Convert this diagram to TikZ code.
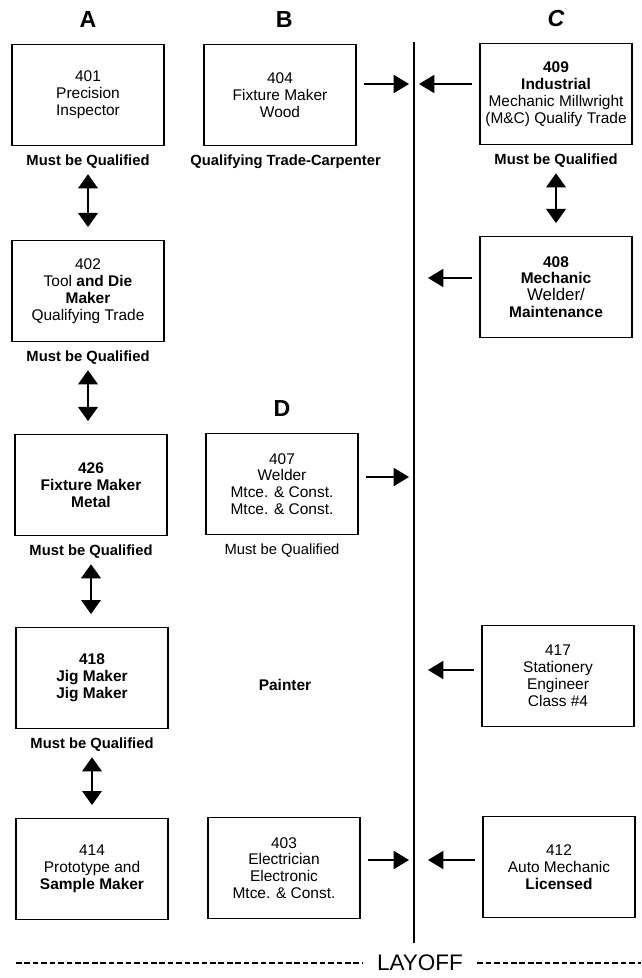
\documentclass[tikz,border=0pt]{standalone}
\usepackage{fontspec}
\setmainfont{Liberation Sans}
\usetikzlibrary{positioning,arrows.meta}

\begin{document}
\begin{tikzpicture}[x=0.025cm,y=-0.025cm,node distance=6pt,
  job/.style={draw,line width=1.1pt,minimum width=3.8cm,minimum height=2.525cm,align=center,inner sep=1pt,font=\fontsize{11}{12}\selectfont},
  qual/.style={font=\fontsize{10.5}{12}\selectfont\bfseries,inner sep=0pt,text height=7.5pt,text depth=2pt},
  col/.style={font=\fontsize{16.5}{16.5}\selectfont\bfseries,inner sep=0pt,text height=12pt,text depth=0pt},
  tol/.style={line width=1.1pt,-{Triangle[length=11pt,width=13pt]},shorten <=5pt},
  dbl/.style={line width=1.1pt,{Triangle[length=10pt,width=14pt]}-{Triangle[length=10pt,width=14pt]},shorten <=4pt,shorten >=9pt},
  cut/.style={line width=1pt,dash pattern=on 4pt off 2pt}]
\useasboundingbox (0,0) rectangle (641,978);

\node[job] (b401) at (88,95) {401\\Precision\\Inspector};
\node[job] (b402) at (88,291) {402\\Tool \textbf{and Die}\\\textbf{Maker}\\Qualifying Trade};
\node[job,font=\fontsize{11}{12}\selectfont\bfseries] (b426) at (91,485) {426\\Fixture Maker\\Metal};
\node[job,font=\fontsize{11}{12}\selectfont\bfseries] (b418) at (92,678) {418\\Jig Maker\\Jig Maker};
\node[job] (b414) at (92,869) {414\\Prototype and\\\textbf{Sample Maker}};

\node[job] (b404) at (280,95) {404\\Fixture Maker\\Wood};
\node[job] (b407) at (282,484) {407\\Welder\\Mtce. \& Const.\\Mtce. \& Const.};
\node[font=\fontsize{11}{12}\selectfont\bfseries] (paint) at (285,685) {Painter};
\node[job] (b403) at (284,868) {403\\Electrician\\Electronic\\Mtce. \& Const.};

\node[job] (b409) at (556,94) {\textbf{409}\\\textbf{Industrial}\\Mechanic Millwright\\(M\&C) Qualify Trade};
\node[job] (b408) at (556,287) {\textbf{408}\\\textbf{Mechanic}\\{\fontsize{12}{12}\selectfont Welder/}\\\textbf{Maintenance}};
\node[job] (b417) at (558,676) {417\\Stationery\\Engineer\\Class \#4};
\node[job] (b412) at (559,867) {412\\Auto Mechanic\\\textbf{Licensed}};

\node[col,above=11pt of b401] (hA) {A};
\node[col,above=11pt of b404,xshift=3pt] (hB) {B};
\node[col,above=11pt of b409,font=\fontsize{16.5}{16.5}\selectfont\bfseries\itshape] (hC) {C};
\node[col,above=11pt of b407] (hD) {D};

\node[qual,below=of b401] (q401) {Must be Qualified};
\node[qual,below=of b404,xshift=4pt] (q404) {Qualifying Trade-Carpenter};
\node[qual,below=of b409] (q409) {Must be Qualified};
\node[qual,below=of b402] (q402) {Must be Qualified};
\node[qual,below=of b426] (q426) {Must be Qualified};
\node[qual,below=of b407,font=\fontsize{10.5}{12}\selectfont] (q407) {Must be Qualified};
\node[qual,below=of b418] (q418) {Must be Qualified};

\draw[dbl] (q401) -- (q401 |- b402.north);
\draw[dbl] (q402) -- (q402 |- b426.north);
\draw[dbl] (q426) -- (q426 |- b418.north);
\draw[dbl] (q418) -- (q418 |- b414.north);
\draw[dbl] (q409) -- (q409 |- b408.north);

\coordinate (vtop) at (414,42);
\coordinate (vbot) at (414,943);
\draw[line width=1.6pt] (vtop) -- (vbot);

\coordinate (in404) at (409,84);
\coordinate (in409) at (419,84);
\coordinate (in408) at (428,278);
\coordinate (in407) at (409,477);
\coordinate (in417) at (428,670);
\coordinate (in403) at (409,860);
\coordinate (in412) at (428,860);
\draw[tol] (b404.east |- in404) -- (in404);
\draw[tol] (b409.west |- in409) -- (in409);
\draw[tol] (b408.west |- in408) -- (in408);
\draw[tol] (b407.east |- in407) -- (in407);
\draw[tol] (b417.west |- in417) -- (in417);
\draw[tol] (b403.east |- in403) -- (in403);
\draw[tol] (b412.west |- in412) -- (in412);

\node[font=\fontsize{16}{16}\selectfont,inner xsep=10pt,inner ysep=0pt] (layoff) at (420,963) {LAYOFF};
\coordinate (dl) at (16,963);
\coordinate (dr) at (641,963);
\draw[cut] (dl) -- (layoff.west);
\draw[cut] (layoff.east) -- (dr);
\end{tikzpicture}
\end{document}
